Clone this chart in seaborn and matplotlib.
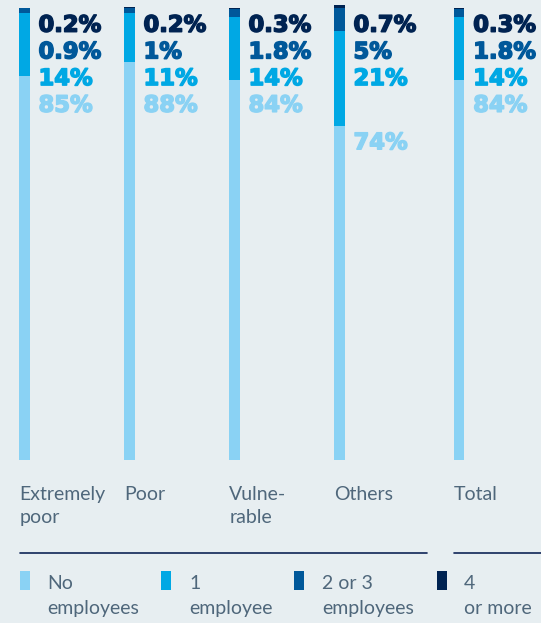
import matplotlib
matplotlib.use("Agg")
import matplotlib.pyplot as plt
import matplotlib.patheffects as pe
from matplotlib.patches import Rectangle
from matplotlib.lines import Line2D
import seaborn as sns
import pandas as pd
import numpy as np

# Share of workers by number of employees, per poverty group (%)
categories = ["Extremely\npoor", "Poor", "Vulne-\nrable", "Others", "Total"]
no_employees = [85, 88, 84, 74, 84]
one_employee = [14, 11, 14, 21, 14]
two_three_employees = [0.9, 1, 1.8, 5, 1.8]
four_plus_employees = [0.2, 0.2, 0.3, 0.7, 0.3]
legend_labels = ["No\nemployees", "1\nemployee", "2 or 3\nemployees", "4\nor more"]

# Layout: horizontal slot of each group (Total set slightly apart)
slots = [0, 1, 2, 3, 4.14]

colors = ["#8AD2F4", "#00A8E4", "#00589A", "#002352"]
bg = "#E7EEF1"
text_col = "#4F677B"

sns.set_style("white")
plt.rcParams["font.family"] = ["Lato", "DejaVu Sans"]

W, H = 541, 623
fig = plt.figure(figsize=(W / 100, H / 100), dpi=100)
fig.patch.set_facecolor(bg)

bar_bottom_px, bar_top_px = 460, 8
px_per_unit = (bar_bottom_px - bar_top_px) / 100
ax = fig.add_axes([0, (H - bar_bottom_px) / H, 1, (bar_bottom_px - bar_top_px) / H])
ax.set_facecolor(bg)

series = [no_employees, one_employee, two_three_employees, four_plus_employees]
cum = np.cumsum(np.array(series, dtype=float), axis=0)

# Stacked bars: draw cumulative totals from the top layer down
for level in range(3, -1, -1):
    df = pd.DataFrame({"slot": slots, "value": cum[level]})
    sns.barplot(data=df, x="slot", y="value", native_scale=True, orient="x",
                color=colors[level], saturation=1, width=0.1, errorbar=None,
                linewidth=0, ax=ax)
for p in ax.patches:
    p.set_clip_on(False)

ax.set_xlim(-24.5 / 105, (W - 24.5) / 105)
ax.set_ylim(0, 100)
ax.axis("off")

# Value labels stacked beside each bar
label_x_off = 14 / 105
top_base = (bar_bottom_px - 31.7) / px_per_unit
step = 26.7 / px_per_unit
for i, x in enumerate(slots):
    vals = [four_plus_employees[i], two_three_employees[i], one_employee[i], no_employees[i]]
    cols = [colors[3], colors[2], colors[1], colors[0]]
    ys = [top_base, top_base - step, top_base - 2 * step]
    ys.append(min(no_employees[i] - 23.7 / px_per_unit, ys[2] - step))
    for v, c, y in zip(vals, cols, ys):
        ax.text(x + label_x_off, y, f"{v:g}%", color=c, fontsize=16.3,
                fontweight="bold", family="DejaVu Sans", va="baseline", ha="left",
                path_effects=[pe.withStroke(linewidth=1.1, foreground=c)])

# Category labels under the bars
half_w = 0.05
for x, cat in zip(slots, categories):
    xf = (24.5 + (x - half_w) * 105) / W
    fig.text(xf, 1 - 486 / H, cat, color=text_col, fontsize=14, va="top",
             ha="left", linespacing=1.45)

# Divider rules
fig.add_artist(Line2D([20 / W, 427 / W], [1 - 553 / H] * 2, color="#0F2557", lw=1.2))
fig.add_artist(Line2D([454 / W, 1], [1 - 553 / H] * 2, color="#0F2557", lw=1.2))

# Legend
rect_x = [20, 161, 294, 437]
text_x = [47, 189, 322, 464]
for rx, tx, lab, c in zip(rect_x, text_x, legend_labels, colors):
    fig.add_artist(Rectangle((rx / W, 1 - 590 / H), 10 / W, 19 / H,
                             transform=fig.transFigure, color=c, lw=0))
    fig.text(tx / W, 1 - 575 / H, lab, color=text_col, fontsize=14,
             va="top", ha="left", linespacing=1.55)

fig.savefig("out.png", dpi=100, facecolor=bg)
